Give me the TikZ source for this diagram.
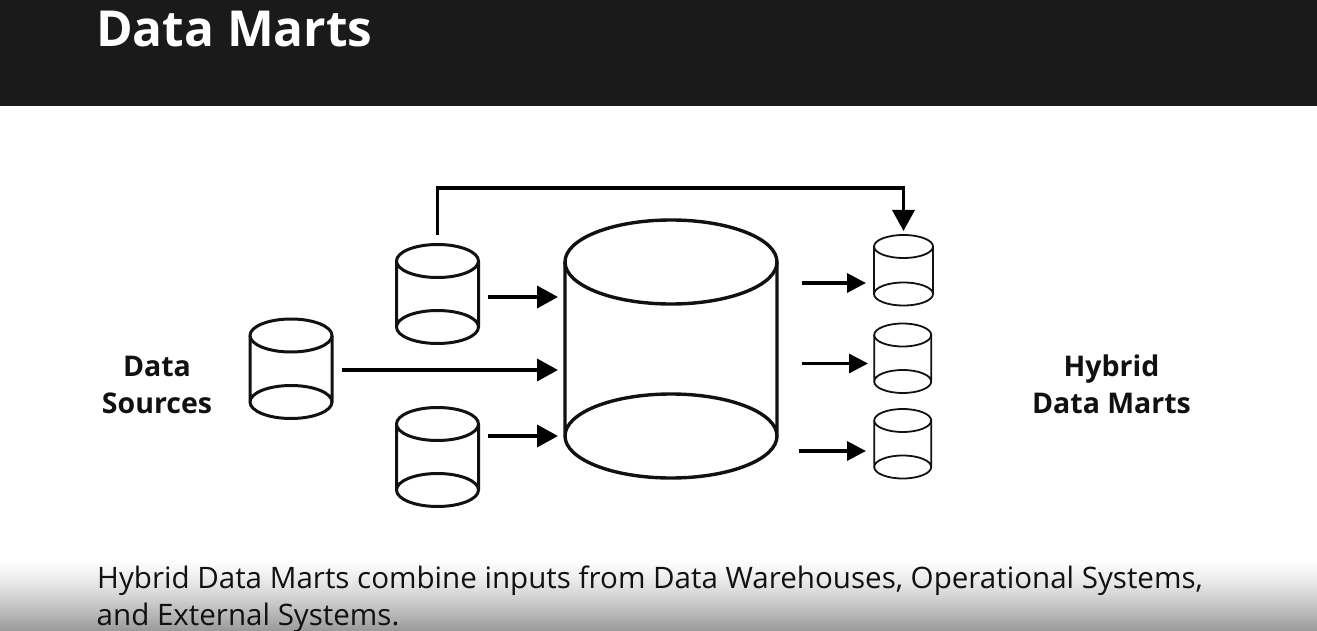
\documentclass[tikz,border=0pt]{standalone}
\usepackage{fontspec}
\setmainfont{Open Sans}
\usetikzlibrary{arrows.meta}
\definecolor{hdr}{HTML}{1A1A1A}
\definecolor{ink}{HTML}{111111}
\tikzset{
  x=1pt,y=-1pt,
  cylline/.style={draw=ink,line width=#1,fill=white,line join=round},
  flow/.style={draw=black,line width=3.6pt,-{Triangle[length=21pt,width=22pt]}},
  flowsmall/.style={draw=black,line width=3.2pt,-{Triangle[length=19pt,width=19pt]}},
  anchorbox/.style={inner sep=0pt,outer sep=0pt,minimum width=0pt,minimum height=0pt},
  lab/.style={font=\fontsize{28.5}{37}\selectfont\bfseries,align=center,text=ink},
  body/.style={font=\fontsize{29.55}{36}\selectfont,text=ink,anchor=base west,inner sep=0pt},
}
% name, cx, top y, bottom y, rx, ry, line width
\newcommand{\cylshape}[7]{%
  \draw[cylline=#7] (#2-#5,#3) -- (#2-#5,#4) arc[start angle=180,end angle=360,x radius=#5,y radius=#6] -- (#2+#5,#3);
  \draw[cylline=#7] (#2,#3) ellipse[x radius=#5,y radius=#6];
  \draw[draw=ink,line width=#7,line cap=round] (#2-#5,#4) arc[start angle=180,end angle=0,x radius=#5,y radius=#6];
  \node[anchorbox,minimum width=2*#5,minimum height=#4-#3+2*#6] (#1) at (#2,{(#3+#4)/2}) {};
}
\begin{document}
\begin{tikzpicture}
\useasboundingbox (0,0) rectangle (1317,631);
\fill[white] (0,0) rectangle (1317,631);
\foreach \r in {558,...,630}{
  \pgfmathsetmacro{\shadeval}{40*((\r-558)/73)^1.3}
  \fill[black!\shadeval!white] (0,\r) rectangle (1317,{min(\r+1.3,631)});
}
\fill[hdr] (0,0) rectangle (1317,106);
\node[anchor=base west,inner sep=0pt,text=white,font=\fontsize{49.6}{60}\selectfont\bfseries] (title) at (96,46.5) {Data Marts};

\cylshape{srcA}{437.5}{261}{327}{41}{16.5}{3pt}
\cylshape{srcB}{291}{335.5}{402}{41}{16.5}{3pt}
\cylshape{srcC}{437.5}{424}{490}{41}{16.5}{3pt}
\cylshape{wh}{671}{262}{436}{106}{42}{3.4pt}
\cylshape{martA}{903.5}{246.5}{294}{29.5}{11.5}{1.8pt}
\cylshape{martB}{902.7}{335}{381.5}{28.5}{11.5}{1.8pt}
\cylshape{martC}{902.7}{420.5}{467}{28.5}{11.5}{1.8pt}

\node[lab] (ds) at (157,385) {Data\\Sources};
\node[lab] (hdm) at (1111.5,384.5) {Hybrid\\Data Marts};

\coordinate (a1) at (488,297); \coordinate (a2) at (342,370); \coordinate (a3) at (488,436);
\coordinate (b1) at (558,297); \coordinate (b2) at (558,370); \coordinate (b3) at (558,436);
\coordinate (c1) at (802,283); \coordinate (c2) at (802,363.5); \coordinate (c3) at (799,451);
\coordinate (d1) at (866,283); \coordinate (d2) at (868,363.5); \coordinate (d3) at (866,451);
\coordinate (e1) at (437.5,235); \coordinate (e2) at (903.5,231);
\draw[flow] (a1) -- (b1);
\draw[flow] (a2) -- (b2);
\draw[flow] (a3) -- (b3);
\draw[flowsmall] (c1) -- (d1);
\draw[flowsmall] (c2) -- (d2);
\draw[flowsmall] (c3) -- (d3);
\draw[flow] (e1) -- (437.5,188) -- (903.5,188) -- (e2);

\node[body] (t1) at (97,588) {Hybrid Data Marts combine inputs from Data Warehouses, Operational Systems,};
\node[body] (t2) at (96.5,625) {and External Systems.};
\end{tikzpicture}
\end{document}
